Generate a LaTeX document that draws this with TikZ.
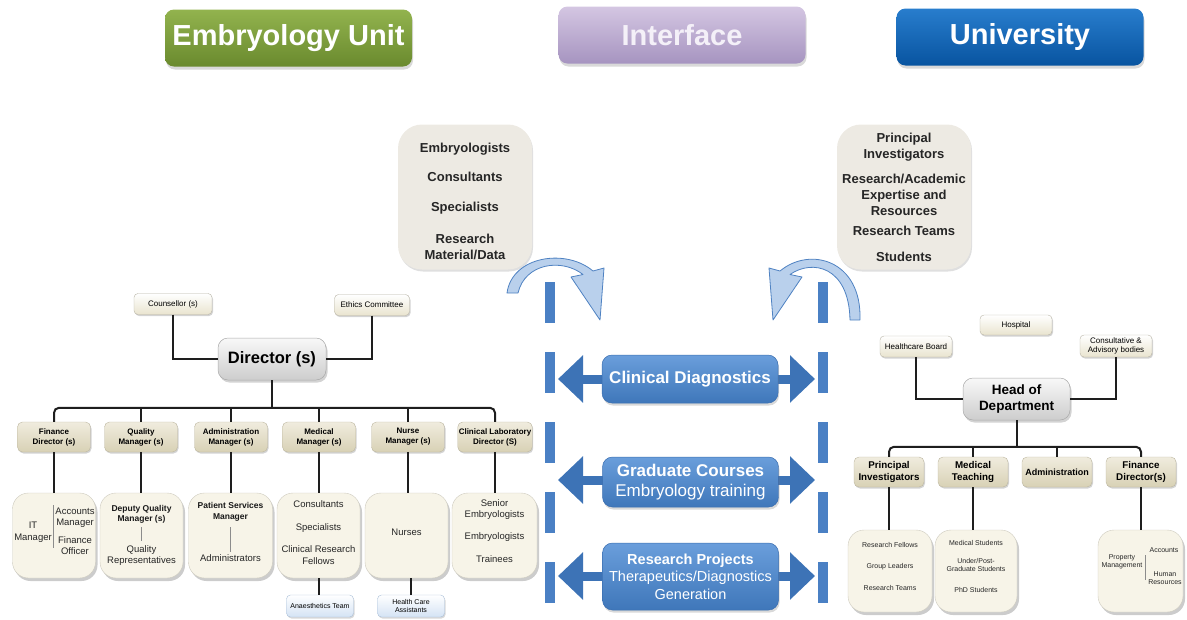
\documentclass[tikz,border=0pt]{standalone}
\usepackage{fontspec}
\setmainfont{Liberation Sans}
\usetikzlibrary{shadows,arrows.meta,calc}
\definecolor{conncol}{HTML}{1E1E1E}
\definecolor{arrowblue}{HTML}{3D73B6}
\definecolor{barblue}{HTML}{4A80C4}
\definecolor{infogray}{HTML}{EDEAE3}
\definecolor{leafcol}{HTML}{F7F4E8}
\newcommand{\fsz}[2]{\fontsize{#1}{#2}\selectfont}
\begin{document}
\begin{tikzpicture}[x=1pt,y=-1pt,
  hdr/.style={rounded corners=9pt, minimum width=247pt, minimum height=57pt, inner sep=0pt,
    font=\fsz{29}{34}\bfseries, drop shadow={opacity=0.3,shadow xshift=1pt,shadow yshift=-3pt}},
  infobox/.style={rounded corners=24pt, fill=infogray, minimum width=134pt, minimum height=145pt,
    drop shadow={opacity=0.25,shadow xshift=1pt,shadow yshift=-2pt}},
  infotxt/.style={align=center, inner sep=0pt, font=\fsz{13}{16}\bfseries, text=black!85},
  smallbox/.style={rounded corners=4pt, top color=white, bottom color={rgb,255:red,233;green,228;blue,207},
    draw={rgb,255:red,184;green,180;blue,166}, line width=0.4pt, inner sep=1pt, align=center,
    font=\fsz{8}{9.5}, drop shadow={opacity=0.35,shadow xshift=1pt,shadow yshift=-1.5pt}},
  mgr/.style={rounded corners=5pt, top color={rgb,255:red,240;green,236;blue,222}, bottom color={rgb,255:red,216;green,209;blue,181},
    draw={rgb,255:red,189;green,183;blue,160}, line width=0.4pt, inner sep=1pt, align=center,
    minimum width=73pt, minimum height=30pt, font=\fsz{8}{10}\bfseries,
    drop shadow={opacity=0.35,shadow xshift=1pt,shadow yshift=-1.5pt}},
  leaf/.style={rounded corners=16pt, fill=leafcol, draw={rgb,255:red,205;green,202;blue,190}, line width=0.4pt,
    drop shadow={opacity=0.4,shadow xshift=2pt,shadow yshift=-3pt}},
  leaftxt/.style={align=center, inner sep=0pt, font=\fsz{9.5}{11.5}, text=black!85},
  leafbold/.style={align=center, inner sep=0pt, font=\fsz{8.5}{10.5}\bfseries, text=black!90},
  rtxt/.style={align=center, inner sep=0pt, font=\fsz{7}{8.5}, text=black!85},
  bluebox/.style={rounded corners=4pt, top color=white, bottom color={rgb,255:red,212;green,227;blue,244},
    draw={rgb,255:red,169;green,191;blue,216}, line width=0.4pt, inner sep=1pt, align=center,
    minimum width=67pt, minimum height=22pt, font=\fsz{7}{8.5},
    drop shadow={opacity=0.3,shadow xshift=1pt,shadow yshift=-1.5pt}},
  chief/.style={rounded corners=10pt, top color={rgb,255:red,248;green,248;blue,248}, bottom color={rgb,255:red,205;green,205;blue,205},
    draw={rgb,255:red,170;green,170;blue,170}, line width=0.5pt, align=center, inner sep=1pt,
    drop shadow={opacity=0.35,shadow xshift=1.5pt,shadow yshift=-2.5pt}},
  midbox/.style={rounded corners=10pt, top color={rgb,255:red,106;green,158;blue,219}, bottom color={rgb,255:red,63;green,119;blue,186},
    draw={rgb,255:red,58;green,110;blue,176}, line width=0.5pt, text=white, align=center, inner sep=1pt,
    minimum width=176pt, drop shadow={opacity=0.3,shadow xshift=1pt,shadow yshift=-2.5pt}},
  conn/.style={line width=2pt, color=conncol},
  divider/.style={line width=0.6pt, color=black!45},
  dbl/.style={line width=9pt, color=arrowblue, {Triangle[length=25pt,width=46pt]}-{Triangle[length=25pt,width=46pt]}},
  bars/.style={line width=10pt, color=barblue, dash pattern=on 41pt off 29pt},
  curv/.style={fill={rgb,255:red,185;green,208;blue,236}, draw={rgb,255:red,79;green,130;blue,194}, line width=0.8pt, line join=round}
]
\useasboundingbox (0,0) rectangle (1187,619);

% headers
\node[hdr, top color={rgb,255:red,146;green,179;blue,78}, bottom color={rgb,255:red,106;green,138;blue,46}, text=white] (hEU) at (288.5,38) {Embryology Unit};
\node[hdr, top color={rgb,255:red,212;green,198;blue,226}, bottom color={rgb,255:red,166;green,148;blue,192}, text={rgb,255:red,244;green,240;blue,248}] (hIF) at (682,35) {Interface};
\node[hdr, top color={rgb,255:red,40;green,125;blue,205}, bottom color={rgb,255:red,8;green,84;blue,160}, text=white] (hUN) at (1020,37) {University};

% top info boxes
\node[infobox] (infoL) at (465,197) {};
\node[infotxt] (infoLt) at (465,201) {Embryologists\\[13pt]Consultants\\[14pt]Specialists\\[16pt]Research\\Material/Data};
\node[infobox] (infoR) at (904,197) {};
\node[infotxt] (infoRt) at (904,197) {Principal\\Investigators\\[9pt]Research/Academic\\Expertise and\\Resources\\[4pt]Research Teams\\[10pt]Students};

% curved arrows
\filldraw[curv] (507,293) .. controls (512,256) and (566,248) .. (593,271) -- (604,268) -- (600,320) -- (571,277) -- (583,274.5) .. controls (562,258) and (525,263) .. (518,293) -- cycle;
\filldraw[curv] (860,320) .. controls (862,260) and (810,246) .. (780,271) -- (769,268) -- (773,320) -- (802,277) -- (790,274.5) .. controls (812,259) and (849,266) .. (850,320) -- cycle;

% dashed bars
\coordinate (lbarT) at (550,282); \coordinate (lbarB) at (550,604);
\coordinate (rbarT) at (823,282); \coordinate (rbarB) at (823,604);
\draw[bars] (lbarT) -- (lbarB);
\draw[bars] (rbarT) -- (rbarB);

% double arrows
\coordinate (la1) at (558,379); \coordinate (ra1) at (815,379);
\coordinate (la2) at (558,480); \coordinate (ra2) at (815,480);
\coordinate (la3) at (558,576); \coordinate (ra3) at (815,576);
\draw[dbl] (la1) -- (ra1);
\draw[dbl] (la2) -- (ra2);
\draw[dbl] (la3) -- (ra3);

\node[midbox, minimum height=48pt, font=\fsz{17}{20}\bfseries] (clin) at (690,379) {Clinical Diagnostics};
\node[midbox, minimum height=50pt, font=\fsz{17}{20}] (grad) at (690.5,482) {\textbf{Graduate Courses}\\Embryology training};
\node[midbox, minimum height=67pt, font=\fsz{14.5}{17.5}] (resp) at (690.5,576.5) {\textbf{Research Projects}\\Therapeutics/Diagnostics\\Generation};

% ---------------- left org chart ----------------
\node[smallbox, minimum width=78pt, minimum height=21pt] (couns) at (173,304) {Counsellor (s)};
\node[smallbox, minimum width=75pt, minimum height=21pt] (ethics) at (372,305) {Ethics Committee};
\node[chief, minimum width=108pt, minimum height=42pt, font=\fsz{16.5}{19}\bfseries] (dir) at (272,359) {Director (s)};
\draw[conn] (couns.south) |- (dir.west);
\draw[conn] (ethics.south) |- (dir.east);

\node[mgr] (fin) at (54,437) {Finance\\Director (s)};
\node[mgr] (qual) at (141,437) {Quality\\Manager (s)};
\node[mgr] (adm) at (231,437) {Administration\\Manager (s)};
\node[mgr] (med) at (319,437) {Medical\\Manager (s)};
\node[mgr] (nur) at (408,437) {Nurse\\Manager (s)};
\node[mgr] (cl) at (495,437) {Clinical Laboratory\\Director (S)};

\draw[conn, rounded corners=5pt] (fin.north) -- ++(0,-14) -| (cl.north);
\draw[conn] (dir.south) -- (dir.south |- 0,408);
\foreach \n in {qual,adm,med,nur} \draw[conn] (\n.north) -- ++(0,-14);

\node[leaf, minimum width=83pt, minimum height=85pt] (finB) at (54,535.5) {};
\node[leaf, minimum width=83pt, minimum height=85pt] (qualB) at (141.5,535.5) {};
\node[leaf, minimum width=84pt, minimum height=85pt] (admB) at (230.5,535.5) {};
\node[leaf, minimum width=83pt, minimum height=85pt] (medB) at (318.5,535.5) {};
\node[leaf, minimum width=83pt, minimum height=85pt] (nurB) at (406.5,535.5) {};
\node[leaf, minimum width=85pt, minimum height=85pt] (clB) at (494.5,535.5) {};
\foreach \a/\b in {fin/finB,qual/qualB,adm/admB,med/medB,nur/nurB,cl/clB} \draw[conn] (\a.south) -- (\a.south |- \b.north);

% contents
\node[leaftxt] (itm) at (33,532) {IT\\Manager};
\draw[divider] (53.5,505) -- (53.5,548);
\node[leaftxt] (accm) at (75,517.5) {Accounts\\Manager};
\node[leaftxt] (fino) at (75,545.5) {Finance\\Officer};

\node[leafbold] (dqm) at (141.5,514.5) {Deputy Quality\\Manager (s)};
\draw[divider] (141.5,527) -- (141.5,541);
\node[leaftxt] (qrep) at (141.5,555.5) {Quality\\Representatives};

\node[leafbold] (psm) at (230.5,512) {Patient Services\\Manager};
\draw[divider] (230.5,527) -- (230.5,552);
\node[leaftxt] (admins) at (230.5,558) {Administrators};

\node[leaftxt] (medtxt) at (318.5,532.5) {Consultants\\[11.5pt]Specialists\\[10.5pt]Clinical Research\\Fellows};
\node[leaftxt] (nurtxt) at (406.5,532) {Nurses};
\node[leaftxt] (cltxt) at (494.5,531) {Senior\\Embryologists\\[10.5pt]Embryologists\\[11.5pt]Trainees};

\node[bluebox] (anae) at (320,606) {Anaesthetics Team};
\node[bluebox] (hca) at (411,606) {Health Care\\Assistants};
\draw[conn] (medB.south) -- (medB.south |- anae.north);
\draw[conn] (hca.north |- nurB.south) -- (hca.north);

% ---------------- right org chart ----------------
\node[smallbox, minimum width=72pt, minimum height=20pt] (hosp) at (1016,325) {Hospital};
\node[smallbox, minimum width=72pt, minimum height=21pt] (hcb) at (916,346.5) {Healthcare Board};
\node[smallbox, minimum width=72pt, minimum height=22pt] (cons) at (1116,346) {Consultative \&\\Advisory bodies};
\node[chief, minimum width=107pt, minimum height=42pt, font=\fsz{13.5}{16}\bfseries] (hod) at (1016.5,399) {Head of\\Department};
\draw[conn] (hcb.south) |- (hod.west);
\draw[conn] (cons.south) |- (hod.east);

\node[mgr, minimum width=70pt, font=\fsz{9.8}{12}\bfseries] (pi) at (889,472) {Principal\\Investigators};
\node[mgr, minimum width=70pt, font=\fsz{9.8}{12}\bfseries] (mt) at (973,472) {Medical\\Teaching};
\node[mgr, minimum width=70pt, font=\fsz{9}{11}\bfseries] (radm) at (1057,472) {Administration};
\node[mgr, minimum width=70pt, font=\fsz{9.8}{12}\bfseries] (rfin) at (1141,472) {Finance\\Director(s)};
\draw[conn, rounded corners=5pt] (pi.north) -- ++(0,-10) -| (rfin.north);
\draw[conn] (hod.south) -- (hod.south |- 0,447);
\foreach \n in {mt,radm} \draw[conn] (\n.north) -- ++(0,-10);

\node[leaf, minimum width=84pt, minimum height=82pt] (piB) at (890,571) {};
\node[leaf, minimum width=82pt, minimum height=82pt] (mtB) at (976,571) {};
\node[leaf, minimum width=85pt, minimum height=82pt] (rfinB) at (1140.5,571) {};
\draw[conn] (pi.south) -- (pi.south |- piB.north);
\draw[conn] (mt.south) -- (mt.south |- mtB.north);
\draw[conn] (rfin.south) -- (rfin.south |- rfinB.north);

\node[rtxt] (pitxt) at (890,566) {Research Fellows\\[13pt]Group Leaders\\[13pt]Research Teams};
\node[rtxt] (mttxt) at (976,566) {Medical Students\\[9.5pt]Under/Post-\\Graduate Students\\[12pt]PhD Students};
\node[rtxt] (prop) at (1122,562) {Property\\Management};
\draw[divider] (1145,555) -- (1145,580);
\node[rtxt] (acc) at (1164,550) {Accounts};
\node[rtxt] (hr) at (1165,578) {Human\\Resources};

\end{tikzpicture}
\end{document}
